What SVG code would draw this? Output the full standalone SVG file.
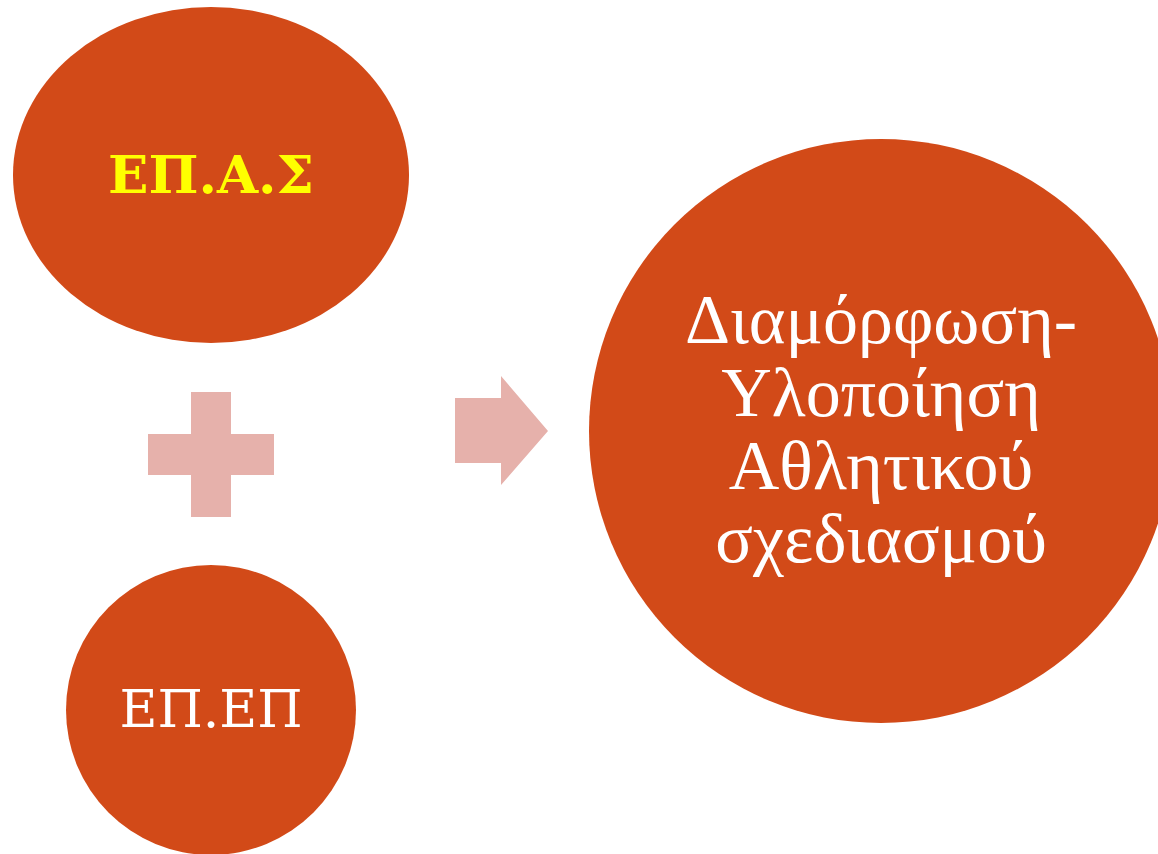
<svg xmlns="http://www.w3.org/2000/svg" width="1158" height="854" viewBox="0 0 1158 854">
<style>
.node{fill:#D24A18}
.sym{fill:#E6B1AB}
.t{font-family:"DejaVu Serif","Liberation Serif",serif;text-anchor:middle}
.big{font-family:"Liberation Serif","DejaVu Serif",serif;font-size:70px;fill:#FFFFFF}
</style>
<rect width="1158" height="854" fill="#FFFFFF"/>
<g id="epas">
<ellipse class="node" cx="211" cy="175" rx="198" ry="168"/>
<text class="t" x="211" y="193" font-size="53" font-weight="bold" fill="#FFFF00">ΕΠ.Α.Σ</text>
</g>
<g id="epep">
<circle class="node" cx="211" cy="710" r="145"/>
<text class="t" x="211" y="727" font-size="52" fill="#FFFFFF">ΕΠ.ΕΠ</text>
</g>
<g id="result">
<circle class="node" cx="881" cy="431" r="292"/>
<text class="t big" x="881" y="343">Διαμόρφωση-</text>
<text class="t big" x="881" y="416">Υλοποίηση</text>
<text class="t big" x="881" y="489">Αθλητικού</text>
<text class="t big" x="881" y="562">σχεδιασμού</text>
</g>
<g id="connectors">
<path class="sym" d="M191,392 H231 V434 H274 V475 H231 V517 H191 V475 H148 V434 H191 Z"/>
<path class="sym" d="M455,398 H501 V376 L548,431 L501,485 V463 H455 Z"/>
</g>
</svg>
